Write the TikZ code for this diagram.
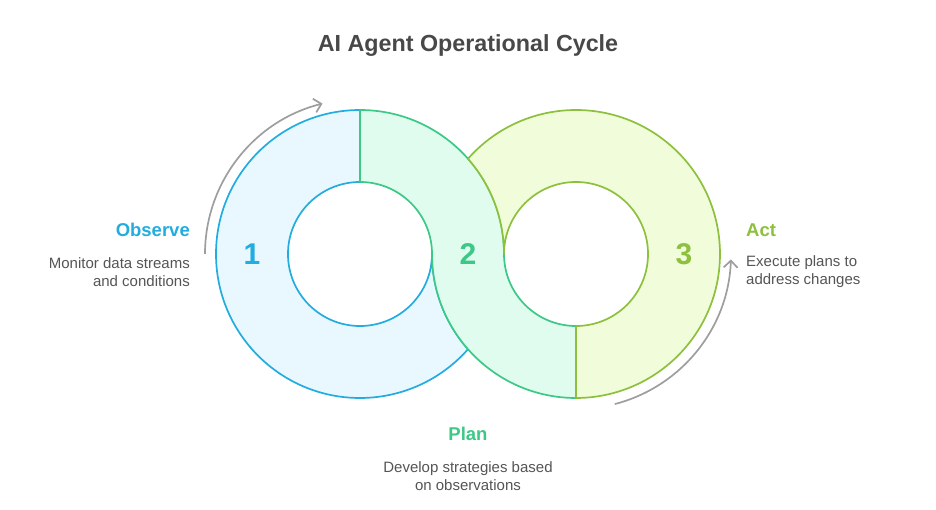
\documentclass[tikz,border=0pt]{standalone}
\usepackage{fontspec}
\setmainfont{Liberation Sans}
\usetikzlibrary{arrows.meta,calc}
\definecolor{bstroke}{HTML}{22ACDF}
\definecolor{bfill}{HTML}{E8F8FE}
\definecolor{gstroke}{HTML}{3CC886}
\definecolor{gfill}{HTML}{E0FCEE}
\definecolor{ystroke}{HTML}{8DC03C}
\definecolor{yfill}{HTML}{F1FCDB}
\definecolor{arrowgray}{HTML}{9E9E9E}
\definecolor{titlegray}{HTML}{484848}
\definecolor{bodygray}{HTML}{555555}
\tikzset{
  seg/.style={line width=1.7pt, line join=round},
  cyclearrow/.style={draw=arrowgray, line width=1.7pt, -{Straight Barb[length=7pt,width=14pt,line width=1.7pt]}},
  headlabel/.style={font=\bfseries\fontsize{18.5}{22}\selectfont},
  bodytext/.style={font=\fontsize{15}{18}\selectfont, text=bodygray, inner sep=0pt},
  numlabel/.style={font=\bfseries\fontsize{30}{34}\selectfont},
}
\begin{document}
\begin{tikzpicture}[x=1pt,y=1pt]
\useasboundingbox (0,0) rectangle (936,509);
\coordinate (L) at (360,255);
\coordinate (R) at (576,255);
% blue segment
\filldraw[seg, draw=bstroke, fill=bfill] (360,399)
  arc[start angle=90, end angle=318.59, radius=144]
  arc[start angle=221.41, end angle=180, radius=144]
  arc[start angle=0, end angle=-270, radius=72] -- cycle;
% green segment
\filldraw[seg, draw=gstroke, fill=gfill] (360,399)
  arc[start angle=90, end angle=0, radius=144]
  arc[start angle=180, end angle=270, radius=72] -- (576,111)
  arc[start angle=270, end angle=180, radius=144]
  arc[start angle=0, end angle=90, radius=72] -- cycle;
% yellow-green segment
\filldraw[seg, draw=ystroke, fill=yfill] (468,350.25)
  arc[start angle=138.59, end angle=-90, radius=144] -- (576,183)
  arc[start angle=270, end angle=540, radius=72]
  arc[start angle=0, end angle=41.41, radius=144] -- cycle;
% cycle arrows
\coordinate (a1s) at ($(L)+(180:155)$);
\coordinate (a2s) at ($(R)+(-75.5:155)$);
\draw[cyclearrow] (a1s) arc[start angle=180, end angle=104, radius=155];
\draw[cyclearrow] (a2s) arc[start angle=-75.5, end angle=-2, radius=155];
% numbers
\node[numlabel, text=bstroke] (n1) at (252,255) {1};
\node[numlabel, text=gstroke] (n2) at (468,255) {2};
\node[numlabel, text=ystroke] (n3) at (684,255) {3};
% title
\node[font=\bfseries\fontsize{23.3}{27}\selectfont, text=titlegray] (title) at (468,463) {AI Agent Operational Cycle};
% observe
\node[headlabel, text=bstroke, anchor=east, inner sep=0pt] (obs) at (190,279) {Observe};
\node[bodytext, anchor=east, align=right] (obst) at (190,237) {Monitor data streams\\and conditions};
% act
\node[headlabel, text=ystroke, anchor=west, inner sep=0pt] (act) at (746,279) {Act};
\node[bodytext, anchor=west, align=left] (actt) at (746,237) {Execute plans to\\address changes};
% plan
\node[headlabel, text=gstroke, inner sep=0pt] (plan) at (468,75) {Plan};
\node[bodytext, align=center] (plant) at (468,33) {Develop strategies based\\on observations};
\end{tikzpicture}
\end{document}
